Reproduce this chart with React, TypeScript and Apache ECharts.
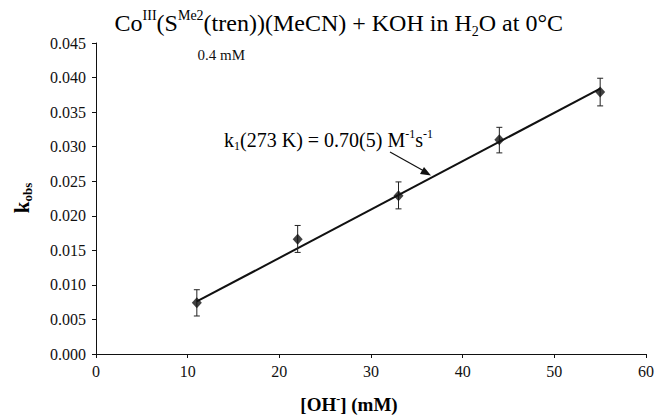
import React, { useEffect, useRef } from "react";
import * as echarts from "echarts";

const ohConc = [11, 22, 33, 44, 55];
const kObs = [0.0074, 0.0166, 0.0229, 0.031, 0.0379];
const kErrLow = [0.0055, 0.0147, 0.021, 0.0291, 0.0359];
const kErrHigh = [0.0093, 0.0186, 0.0249, 0.0328, 0.0399];
const fitX = [11, 55];
const fitY = [0.0076, 0.0384];
const xTickMin = 0;
const xTickMax = 60;
const xTickStep = 10;
const yTickMin = 0;
const yTickMax = 0.045;
const yTickStep = 0.005;

const FONT = '"Liberation Serif", "Times New Roman", serif';

export default function App() {
  const ref = useRef<HTMLDivElement>(null);
  useEffect(() => {
    if (!ref.current) return;
    const chart = echarts.init(ref.current, null, { renderer: "svg" });
    const mk = (size: number, lh: number, extra: any = {}) => ({
      fontFamily: FONT,
      fontSize: size,
      lineHeight: lh,
      color: "#111",
      ...extra,
    });
    const option: any = {
      animation: false,
      backgroundColor: "#fff",
      grid: { left: 96, right: 11, top: 43, bottom: 61, containLabel: false },
      xAxis: {
        type: "value",
        min: xTickMin,
        max: xTickMax,
        interval: xTickStep,
        axisLine: { lineStyle: { color: "#111", width: 1 } },
        axisTick: { show: true, length: 4, lineStyle: { color: "#111" } },
        axisLabel: { fontFamily: FONT, fontSize: 16, color: "#111", margin: 9 },
        splitLine: { show: false },
      },
      yAxis: {
        type: "value",
        min: yTickMin,
        max: yTickMax,
        interval: yTickStep,
        axisLine: { show: true, lineStyle: { color: "#111", width: 1 } },
        axisTick: { show: true, length: 4, lineStyle: { color: "#111" } },
        axisLabel: {
          fontFamily: FONT,
          fontSize: 16,
          color: "#111",
          margin: 10,
          formatter: (v: number) => v.toFixed(3),
        },
        splitLine: { show: false },
      },
      series: [
        {
          type: "line",
          data: fitX.map((x, i) => [x, fitY[i]]),
          symbol: "none",
          lineStyle: { color: "#111", width: 2 },
          z: 2,
        },
        {
          type: "custom",
          data: ohConc.map((x, i) => [x, kErrLow[i], kErrHigh[i]]),
          renderItem: (params: any, api: any) => {
            const x = api.value(0);
            const lo = api.coord([x, api.value(1)]);
            const hi = api.coord([x, api.value(2)]);
            const cw = 3;
            const st = { stroke: "#222", lineWidth: 1 };
            return {
              type: "group",
              children: [
                { type: "line", shape: { x1: lo[0], y1: lo[1], x2: hi[0], y2: hi[1] }, style: st },
                { type: "line", shape: { x1: lo[0] - cw, y1: lo[1], x2: lo[0] + cw, y2: lo[1] }, style: st },
                { type: "line", shape: { x1: hi[0] - cw, y1: hi[1], x2: hi[0] + cw, y2: hi[1] }, style: st },
              ],
            };
          },
          z: 3,
        },
        {
          type: "scatter",
          data: ohConc.map((x, i) => [x, kObs[i]]),
          symbol: "diamond",
          symbolSize: [10, 11],
          itemStyle: { color: "#111" },
          z: 4,
        },
      ],
      graphic: [
        {
          type: "text",
          x: 563,
          y: 23,
          style: {
            text: "{m|Co}{p|III}{m|(S}{p|Me2}{m|(tren))(MeCN) + KOH in H}{d|2}{m|O at 0°C}",
            align: "right",
            verticalAlign: "middle",
            rich: {
              m: mk(24, 30),
              p: mk(14, 14, { verticalAlign: "top" }),
              d: mk(14, 14, { verticalAlign: "bottom" }),
            },
          },
        },
        {
          type: "text",
          x: 245,
          y: 55,
          style: {
            text: "0.4 mM",
            fontFamily: FONT,
            fontSize: 15,
            fill: "#111",
            align: "right",
            verticalAlign: "middle",
          },
        },
        {
          type: "text",
          x: 433,
          y: 140,
          style: {
            text: "{m|k}{d|1}{m|(273 K) = 0.70(5) M}{p|-1}{m|s}{p|-1}",
            align: "right",
            verticalAlign: "middle",
            rich: {
              m: mk(20, 24),
              p: mk(12, 12, { verticalAlign: "top" }),
              d: mk(12, 12, { verticalAlign: "bottom" }),
            },
          },
        },
        {
          type: "text",
          x: 349,
          y: 404,
          style: {
            text: "{b|[OH}{s|-}{b|] (mM)}",
            align: "center",
            verticalAlign: "middle",
            rich: {
              b: mk(19, 22, { fontWeight: "bold" }),
              s: mk(12, 12, { fontWeight: "bold", verticalAlign: "top" }),
            },
          },
        },
        {
          type: "text",
          x: 22,
          y: 198,
          rotation: Math.PI / 2,
          style: {
            text: "{b|k}{s|obs}",
            align: "center",
            verticalAlign: "middle",
            rich: {
              b: mk(21, 24, { fontWeight: "bold" }),
              s: mk(13, 13, { fontWeight: "bold", verticalAlign: "bottom" }),
            },
          },
        },
        {
          type: "line",
          shape: { x1: 390, y1: 152, x2: 424, y2: 171 },
          style: { stroke: "#111", lineWidth: 1.2 },
        },
        {
          type: "polygon",
          shape: { points: [[431, 175.5], [420, 174], [424, 167]] },
          style: { fill: "#111" },
        },
      ],
    };
    chart.setOption(option);
    return () => chart.dispose();
  }, []);
  return (
    <div
      ref={ref}
      style={{ position: "fixed", left: 0, top: 0, width: 657, height: 415 }}
    />
  );
}
